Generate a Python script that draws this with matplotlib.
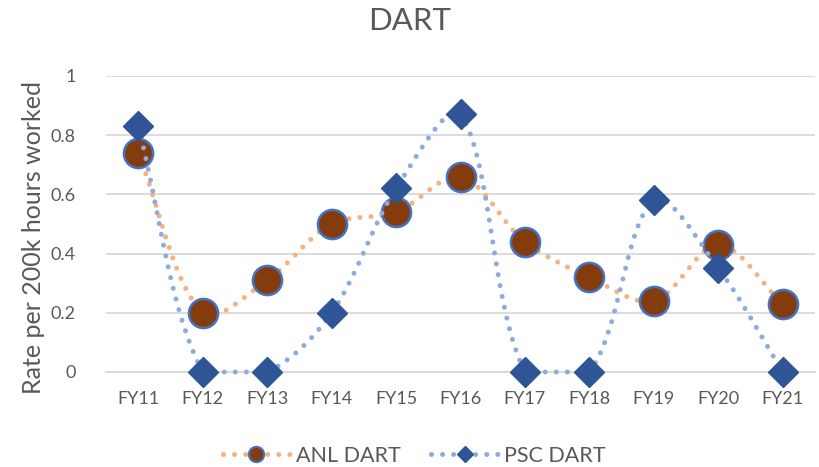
import numpy as np
import matplotlib
matplotlib.use("Agg")
import matplotlib.pyplot as plt
from matplotlib.lines import Line2D

plt.rcParams['font.family'] = ['Lato', 'DejaVu Sans']

categories = ["FY11", "FY12", "FY13", "FY14", "FY15", "FY16", "FY17", "FY18", "FY19", "FY20", "FY21"]
anl_dart = [0.74, 0.20, 0.31, 0.50, 0.54, 0.66, 0.44, 0.32, 0.24, 0.43, 0.23]
psc_dart = [0.83, 0.00, 0.00, 0.20, 0.62, 0.87, 0.00, 0.00, 0.58, 0.35, 0.00]
y_ticks = [0, 0.2, 0.4, 0.6, 0.8, 1]
y_tick_labels = ["0", "0.2", "0.4", "0.6", "0.8", "1"]

W, H = 819, 467
fig = plt.figure(figsize=(W / 100, H / 100), dpi=100)
ax = fig.add_axes([106 / W, 1 - 372 / H, (815 - 106) / W, (372 - 76) / H])

# pixel scale for smoothing in screen space
SX = 64.5
SY = 296.0


def smooth(ys, n=40):
    xs = np.arange(len(ys), dtype=float)
    P = np.column_stack([xs * SX, np.asarray(ys, float) * SY])
    m = len(P)
    out = []
    for i in range(m - 1):
        p1, p2 = P[i], P[i + 1]
        p0 = P[i - 1] if i > 0 else P[i]
        p3 = P[i + 2] if i + 2 < m else P[i + 1]
        d01 = np.linalg.norm(p1 - p0)
        d12 = np.linalg.norm(p2 - p1)
        d23 = np.linalg.norm(p3 - p2)
        f = 1.0 / 3.0
        c1 = p1 + (p2 - p0) * f * d12 / (d01 + d12) if d01 + d12 > 0 else p1.copy()
        c2 = p2 - (p3 - p1) * f * d12 / (d12 + d23) if d12 + d23 > 0 else p2.copy()
        if abs(p2[1] - p1[1]) < 1e-9:
            c1[1] = p1[1]
            c2[1] = p1[1]
        t = np.linspace(0, 1, n)[:, None]
        seg = ((1 - t) ** 3) * p1 + 3 * ((1 - t) ** 2) * t * c1 + 3 * (1 - t) * t ** 2 * c2 + t ** 3 * p2
        out.append(seg if i == 0 else seg[1:])
    pts = np.vstack(out)
    return pts[:, 0] / SX, pts[:, 1] / SY


x = np.arange(len(categories))
orange = "#F4B183"
blue_line = "#8FAADC"
circ_fill = "#843C0C"
circ_edge = "#4472C4"
diam = "#2F5597"
text_col = "#595959"
dot_style = (0, (0.01, 2.2))

sx, sy = smooth(anl_dart)
ax.plot(sx, sy, color=orange, lw=3.6, linestyle=dot_style, dash_capstyle='round',
        clip_on=False, zorder=3)
ax.plot(x, anl_dart, linestyle='none', marker='o', markersize=21, markerfacecolor=circ_fill,
        markeredgecolor=circ_edge, markeredgewidth=1.8, clip_on=False, zorder=4)
sx, sy = smooth(psc_dart)
ax.plot(sx, sy, color=blue_line, lw=3.6, linestyle=dot_style, dash_capstyle='round',
        clip_on=False, zorder=5)
ax.plot(x, psc_dart, linestyle='none', marker='D', markersize=15.5, markerfacecolor=diam,
        markeredgecolor=diam, markeredgewidth=1, clip_on=False, zorder=6)

ax.set_xlim(-0.5, len(categories) - 0.5)
ax.set_ylim(0, 1)
ax.set_xticks(x)
ax.set_xticklabels(categories)
ax.set_yticks(y_ticks)
ax.set_yticklabels(y_tick_labels)
ax.grid(axis='y', color="#D9D9D9", lw=1.3)
ax.set_axisbelow(True)
for s in ['top', 'right', 'left']:
    ax.spines[s].set_visible(False)
ax.spines['bottom'].set_color("#D9D9D9")
ax.spines['bottom'].set_linewidth(1.3)
ax.tick_params(axis='both', length=0, labelsize=13, colors=text_col)
ax.tick_params(axis='x', pad=14)
ax.tick_params(axis='y', pad=22)

fig.text(34 / W, 1 - 238 / H, "Rate per 200k hours worked", rotation=90, ha='center', va='center',
         fontsize=18, color=text_col)
fig.text(0.5, 1 - 21 / H, "DART", ha='center', va='center', fontsize=22.5, color=text_col)

h1 = Line2D([], [], color=orange, lw=3.6, linestyle=dot_style, dash_capstyle='round',
            marker='o', markersize=11, markerfacecolor=circ_fill, markeredgecolor=circ_edge,
            markeredgewidth=1.5)
h2 = Line2D([], [], color=blue_line, lw=3.6, linestyle=dot_style, dash_capstyle='round',
            marker='D', markersize=8, markerfacecolor=diam, markeredgecolor=diam)
fig.legend([h1, h2], ["ANL DART", "PSC DART"], loc='center', bbox_to_anchor=(414.5 / W, 1 - 456 / H),
           ncol=2, frameon=False, fontsize=15.5, labelcolor=text_col, handlelength=3.1,
           columnspacing=1.4, handletextpad=0.3, borderaxespad=0, borderpad=0)

fig.savefig("out.png", dpi=100)
